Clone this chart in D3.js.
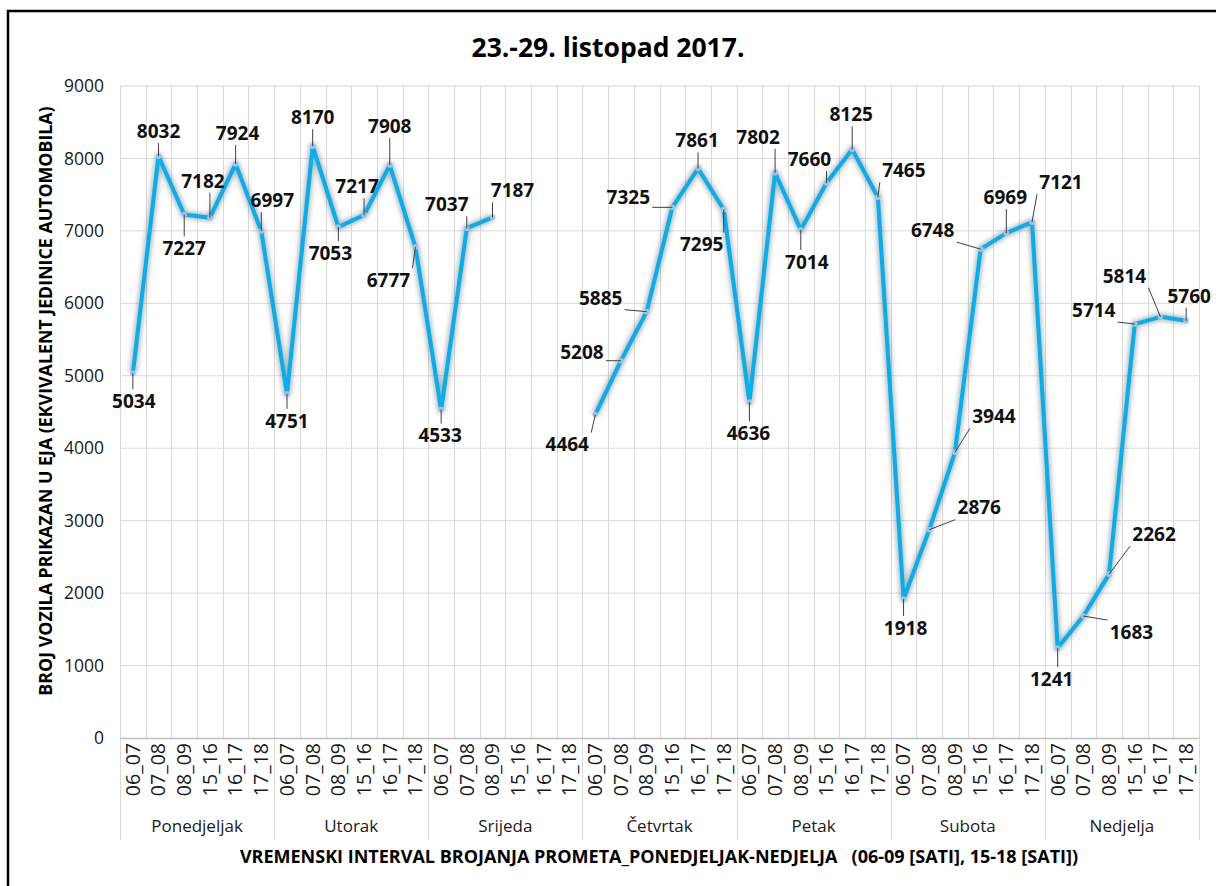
<!DOCTYPE html>
<html>
<head>
<meta charset="utf-8">
<script src="https://cdn.jsdelivr.net/npm/d3@7"></script>
<style>
  body { margin: 0; background: #fff; }
  svg { display: block; font-family: "Open Sans", "Noto Sans", sans-serif; }
</style>
</head>
<body>
<svg id="chart" width="1216" height="886"></svg>
<script>
const days = ["Ponedjeljak", "Utorak", "Srijeda", "Četvrtak", "Petak", "Subota", "Nedjelja"];
const intervals = ["06_07", "07_08", "08_09", "15_16", "16_17", "17_18"];

// EJA counts, one per day x interval (Srijeda afternoon not counted)
const values = [
  5034, 8032, 7227, 7182, 7924, 6997,
  4751, 8170, 7053, 7217, 7908, 6777,
  4533, 7037, 7187, null, null, null,
  4464, 5208, 5885, 7325, 7861, 7295,
  4636, 7802, 7014, 7660, 8125, 7465,
  1918, 2876, 3944, 6748, 6969, 7121,
  1241, 1683, 2262, 5714, 5814, 5760
];

const yTicks = [0, 1000, 2000, 3000, 4000, 5000, 6000, 7000, 8000, 9000];

// label offsets from the point (px), as placed in the original
const labelOffsets = [
  [1, 28], [0, -25], [0, 34], [-7, -37], [2, -31], [11, -31],
  [0, 27], [0, -29], [-8, 26], [-7, -29], [0, -39], [-27, 33],
  [-1, 26], [-20, -24], [20, -27], null, null, null,
  [-28, 30], [-39, -9], [-46, -14], [-44, -10], [-1, -28], [-22, 35],
  [-1, 31], [-17, -36], [6, 32], [-17, -24], [-1, -35], [26, -27],
  [2, 29], [50, -22], [39, -36], [-48, -19], [-1, -36], [29, -40],
  [-6, 31], [48, 16], [45, -40], [-41, -14], [-36, -41], [3, -25]
];

const keys = days.flatMap(d => intervals.map(i => `${d}|${i}`));
const points = keys.map((k, i) => ({ key: k, value: values[i], off: labelOffsets[i] }));

const svg = d3.select("#chart");
const plot = { left: 120, right: 1199, top: 86, bottom: 738 };

const x = d3.scaleBand().domain(keys).range([plot.left, plot.right]);
const y = d3.scaleLinear().domain([0, 9000]).range([plot.bottom, plot.top]);

// outer frame
svg.append("rect")
  .attr("x", 8).attr("y", 11)
  .attr("width", 1240).attr("height", 900)
  .attr("fill", "none").attr("stroke", "#000").attr("stroke-width", 2.5);

// shadow filter for the line
const defs = svg.append("defs");
defs.append("filter").attr("id", "glow")
  .attr("x", "-5%").attr("y", "-5%").attr("width", "110%").attr("height", "110%")
  .append("feGaussianBlur").attr("stdDeviation", 2.5);

// horizontal grid
svg.append("g")
  .selectAll("line")
  .data(yTicks.filter(d => d > 0))
  .join("line")
  .attr("x1", plot.left).attr("x2", plot.right)
  .attr("y1", d => y(d)).attr("y2", d => y(d))
  .attr("stroke", "#d9d9d9");

// vertical grid at each category boundary
svg.append("g")
  .selectAll("line")
  .data(keys.slice(1))
  .join("line")
  .attr("x1", d => Math.round(x(d)) + 0.5).attr("x2", d => Math.round(x(d)) + 0.5)
  .attr("y1", plot.top).attr("y2", plot.bottom)
  .attr("stroke", "#d9d9d9");

// day separators through the category labels
svg.append("g")
  .selectAll("line")
  .data(days.map(d => `${d}|${intervals[0]}`).concat(["end"]))
  .join("line")
  .attr("x1", d => (d === "end" ? plot.right : Math.round(x(d))) + 0.5)
  .attr("x2", d => (d === "end" ? plot.right : Math.round(x(d))) + 0.5)
  .attr("y1", d => d === "end" || d.startsWith(days[0]) ? plot.top : plot.bottom)
  .attr("y2", 840)
  .attr("stroke", "#d9d9d9");

// axis line at zero
svg.append("line")
  .attr("x1", plot.left).attr("x2", plot.right)
  .attr("y1", y(0) + 0.5).attr("y2", y(0) + 0.5)
  .attr("stroke", "#bfbfbf").attr("stroke-width", 1.5);

// y tick labels
svg.append("g")
  .selectAll("text")
  .data(yTicks)
  .join("text")
  .attr("x", 104)
  .attr("y", d => y(d))
  .attr("dy", "0.35em")
  .attr("text-anchor", "end")
  .attr("font-size", 17.5)
  .attr("fill", "#1a1a1a")
  .text(d => d);

// interval labels, rotated
svg.append("g")
  .selectAll("text")
  .data(keys)
  .join("text")
  .attr("transform", d => `translate(${x(d) + x.bandwidth() / 2},743) rotate(-90)`)
  .attr("dy", "0.35em")
  .attr("text-anchor", "end")
  .attr("font-size", 19.5)
  .attr("fill", "#1a1a1a")
  .text(d => d.split("|")[1]);

// day labels
svg.append("g")
  .selectAll("text")
  .data(days)
  .join("text")
  .attr("x", d => x(`${d}|${intervals[0]}`) + x.bandwidth() * 3)
  .attr("y", 826)
  .attr("dy", "0.35em")
  .attr("text-anchor", "middle")
  .attr("font-size", 17)
  .attr("fill", "#1a1a1a")
  .text(d => d);

// titles
svg.append("text")
  .attr("x", 608).attr("y", 48)
  .attr("dy", "0.35em")
  .attr("text-anchor", "middle")
  .attr("font-size", 26.5)
  .attr("font-weight", 700)
  .text("23.-29. listopad 2017.");

svg.append("text")
  .attr("transform", "translate(46,401) rotate(-90)")
  .attr("dy", "0.35em")
  .attr("text-anchor", "middle")
  .attr("font-size", 17.8)
  .attr("font-weight", 700)
  .text("BROJ VOZILA PRIKAZAN U EJA (EKVIVALENT JEDINICE AUTOMOBILA)");

svg.append("text")
  .attr("x", 659).attr("y", 857)
  .attr("dy", "0.35em")
  .attr("text-anchor", "middle")
  .attr("font-size", 18)
  .attr("font-weight", 700)
  .style("white-space", "pre")
  .text("VREMENSKI INTERVAL BROJANJA PROMETA_PONEDJELJAK-NEDJELJA   (06-09 [SATI], 15-18 [SATI])");

// series line
const cx = d => x(d.key) + x.bandwidth() / 2;
const line = d3.line()
  .defined(d => d.value != null)
  .x(cx)
  .y(d => y(d.value));

svg.append("path")
  .datum(points)
  .attr("d", line)
  .attr("fill", "none")
  .attr("stroke", "#808080")
  .attr("stroke-width", 7)
  .attr("stroke-linejoin", "round")
  .attr("opacity", 0.6)
  .attr("filter", "url(#glow)");

svg.append("path")
  .datum(points)
  .attr("d", line)
  .attr("fill", "none")
  .attr("stroke", "#00b0f0")
  .attr("stroke-width", 4)
  .attr("stroke-linejoin", "round");

const shown = points.filter(d => d.value != null);

svg.append("g")
  .selectAll("circle")
  .data(shown)
  .join("circle")
  .attr("cx", cx)
  .attr("cy", d => y(d.value))
  .attr("r", 2.8)
  .attr("fill", "#9dc3e6");

// leader lines from label box to the point
const halfW = 22, halfH = 8;
const leaders = shown.map(d => {
  const px = cx(d), py = y(d.value);
  const lx = px + d.off[0], ly = py + d.off[1];
  const qx = Math.max(lx - halfW - 2, Math.min(px, lx + halfW + 2));
  const qy = Math.max(ly - halfH - 4, Math.min(py, ly + halfH + 4));
  return { px, py, qx, qy, len: Math.hypot(px - qx, py - qy) };
}).filter(d => d.len > 7);

svg.append("g")
  .selectAll("line")
  .data(leaders)
  .join("line")
  .attr("x1", d => d.qx).attr("y1", d => d.qy)
  .attr("x2", d => d.px).attr("y2", d => d.py)
  .attr("stroke", "#404040")
  .attr("stroke-width", 1);

// data labels
svg.append("g")
  .selectAll("text")
  .data(shown)
  .join("text")
  .attr("x", d => cx(d) + d.off[0])
  .attr("y", d => y(d.value) + d.off[1])
  .attr("dy", "0.36em")
  .attr("text-anchor", "middle")
  .attr("font-size", 19)
  .attr("font-weight", 700)
  .attr("fill", "#111")
  .text(d => d.value);
</script>
</body>
</html>
